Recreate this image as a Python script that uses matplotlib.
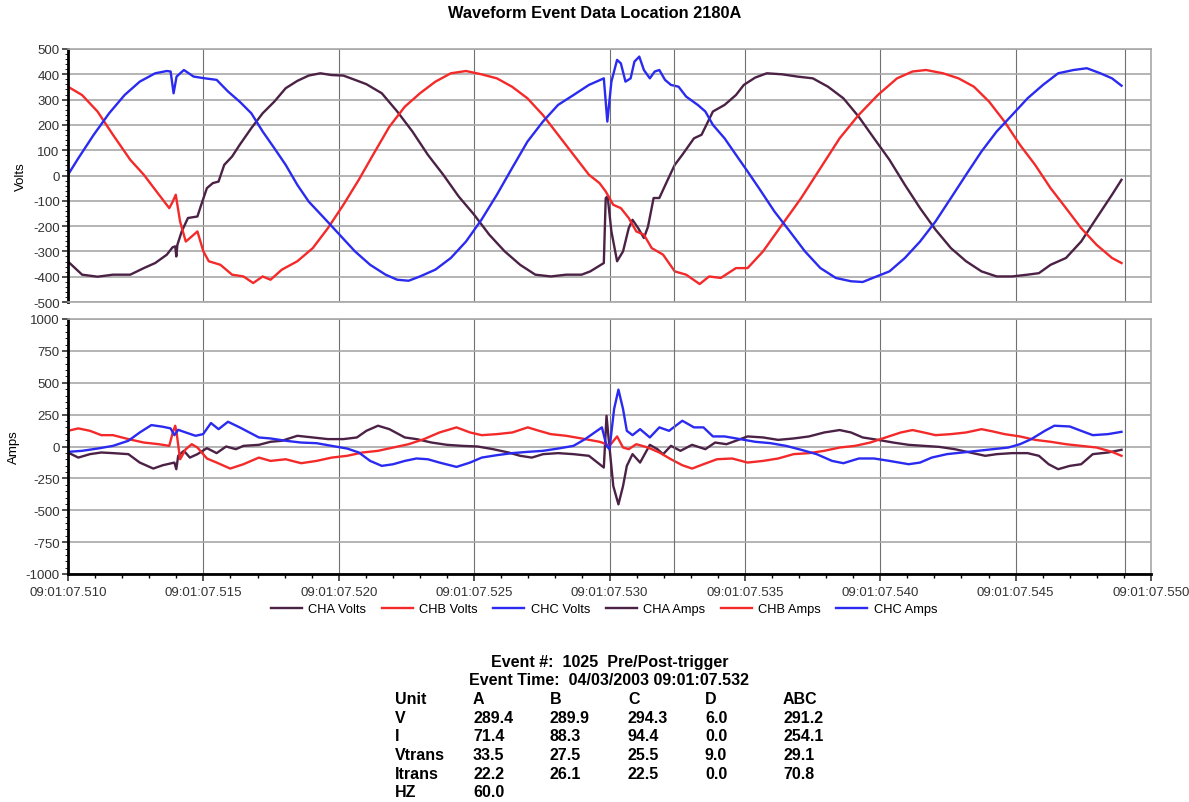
import matplotlib
matplotlib.use("Agg")
from matplotlib import pyplot as plt
from matplotlib.ticker import MultipleLocator, FuncFormatter

plt.rcParams['font.family'] = ['Liberation Sans', 'DejaVu Sans']
plt.rcParams['axes.unicode_minus'] = False

# time in ms after 09:01:07.510
cha_v_t = [0, 0.52, 1.09, 1.66, 2.3, 2.8, 3.22, 3.65, 3.86, 3.96, 4.0, 4.04, 4.2, 4.43, 4.78, 4.92, 5.13,
           5.35, 5.56, 5.77, 6.06, 6.34, 6.77, 7.19, 7.62, 8.04, 8.47, 8.89, 9.32, 9.74, 10.17, 10.6,
           11.02, 11.59, 12.16, 12.72, 13.29, 13.86, 14.43, 15.0, 15.56, 16.13, 16.7, 17.26, 17.83,
           18.4, 18.97, 19.29, 19.79, 19.86, 19.93, 20.07, 20.28, 20.5, 20.71, 20.85, 21.06, 21.27,
           21.42, 21.63, 21.84, 22.12, 22.41, 22.69, 23.12, 23.4, 23.82, 24.25, 24.67, 24.96, 25.38,
           25.81, 26.37, 26.94, 27.51, 28.07, 28.64, 29.2, 29.77, 30.34, 30.91, 31.47, 32.04, 32.61,
           33.17, 33.74, 34.3, 34.87, 35.44, 35.86, 36.29, 36.86, 37.42, 37.99, 38.56, 38.91]
cha_v = [-340, -392, -400, -392, -392, -366, -346, -313, -284, -280, -320, -274, -221, -168, -162,
         -116, -50, -30, -24, 42, 75, 121, 187, 246, 292, 345, 374, 395, 404, 397, 395, 378, 361, 325,
         253, 174, 82, 3, -83, -155, -234, -300, -353, -392, -399, -392, -392, -379, -346, -89, -83,
         -221, -339, -300, -208, -175, -208, -247, -203, -89, -89, -24, 42, 82, 147, 161, 253, 279,
         318, 358, 387, 404, 400, 391, 384, 351, 305, 233, 147, 62, -37, -129, -214, -287, -339, -379,
         -399, -399, -392, -386, -353, -326, -261, -168, -76, -17]

chb_v_t = [0, 0.52, 1.09, 1.66, 2.3, 2.8, 3.36, 3.74, 3.86, 3.98, 4.14, 4.35, 4.57, 4.78, 5.0, 5.2,
           5.63, 6.06, 6.48, 6.84, 7.19, 7.48, 7.9, 8.47, 9.04, 9.6, 10.17, 10.74, 11.3, 11.87, 12.44,
           13.0, 13.57, 14.14, 14.7, 15.27, 15.84, 16.4, 16.97, 17.54, 18.1, 18.67, 19.24, 19.63,
           19.86, 20.14, 20.42, 20.71, 20.99, 21.27, 21.56, 21.98, 22.41, 22.83, 23.33, 23.68, 24.11,
           24.67, 25.1, 25.67, 26.37, 27.08, 27.79, 28.5, 29.2, 29.91, 30.62, 31.19, 31.69, 32.32,
           32.89, 33.46, 34.02, 34.59, 35.16, 35.72, 36.29, 36.86, 37.42, 37.99, 38.56, 38.91]
chb_v = [351, 318, 253, 161, 62, 3, -76, -129, -105, -76, -182, -261, -241, -221, -300, -339, -353,
         -392, -399, -425, -399, -412, -372, -339, -287, -208, -116, -17, 88, 193, 272, 325, 371, 404,
         413, 400, 384, 351, 305, 239, 161, 82, 3, -30, -63, -116, -129, -168, -221, -234, -287,
         -313, -379, -392, -429, -399, -405, -366, -366, -300, -195, -89, 29, 147, 239, 318, 384, 411,
         417, 404, 384, 351, 292, 213, 121, 42, -50, -129, -208, -274, -326, -346]

chc_v_t = [0, 0.38, 0.95, 1.52, 2.09, 2.65, 3.22, 3.65, 3.79, 3.9, 4.01, 4.28, 4.64, 5.06, 5.49,
           5.91, 6.34, 6.77, 7.19, 7.62, 8.04, 8.47, 8.89, 9.46, 10.03, 10.6, 11.16, 11.73, 12.16,
           12.58, 13.0, 13.57, 14.14, 14.7, 15.27, 15.84, 16.4, 16.97, 17.54, 18.1, 18.67, 19.24,
           19.79, 19.92, 20.07, 20.28, 20.42, 20.59, 20.78, 20.92, 21.1, 21.27, 21.49, 21.67, 21.84,
           22.05, 22.27, 22.55, 22.83, 23.26, 23.54, 23.82, 24.25, 24.67, 25.1, 25.52, 26.09, 26.66,
           27.22, 27.79, 28.36, 28.92, 29.35, 29.77, 30.34, 30.91, 31.47, 32.04, 32.61, 33.17, 33.74,
           34.3, 34.87, 35.44, 36.01, 36.57, 37.14, 37.63, 38.13, 38.56, 38.91]
chc_v = [3, 68, 161, 246, 318, 371, 404, 413, 411, 325, 391, 417, 391, 384, 378, 332, 292, 246, 174,
         108, 42, -37, -103, -168, -234, -300, -353, -392, -412, -416, -399, -372, -326, -261, -175,
         -76, 29, 134, 213, 279, 318, 358, 384, 213, 371, 457, 443, 371, 384, 450, 470, 417, 384, 411,
         417, 378, 358, 351, 312, 279, 253, 200, 147, 82, 16, -50, -142, -221, -300, -366, -405, -418,
         -421, -403, -379, -326, -261, -182, -89, 3, 95, 174, 239, 305, 358, 404, 417, 424, 404, 384,
         355]

cha_a_t = [0, 0.38, 0.81, 1.23, 1.66, 2.23, 2.65, 3.15, 3.5, 3.93, 4.0, 4.07, 4.28, 4.5, 4.78, 5.13,
           5.49, 5.84, 6.2, 6.48, 7.05, 7.48, 7.9, 8.47, 9.04, 9.6, 10.17, 10.67, 11.02, 11.45, 11.87,
           12.44, 12.87, 13.43, 14.0, 14.57, 15.13, 15.7, 16.27, 16.7, 17.13, 17.55, 18.1, 18.67,
           19.24, 19.79, 19.89, 19.97, 20.14, 20.33, 20.5, 20.64, 20.85, 21.13, 21.49, 21.77, 21.98,
           22.27, 22.62, 23.05, 23.54, 23.9, 24.32, 24.67, 25.1, 25.67, 26.23, 26.8, 27.37, 27.93,
           28.5, 28.92, 29.35, 29.92, 30.48, 31.05, 31.61, 32.18, 32.75, 33.31, 33.88, 34.3, 34.87,
           35.44, 35.86, 36.22, 36.57, 37.0, 37.42, 37.85, 38.41, 38.91]
cha_a = [-47, -87, -60, -47, -52, -60, -126, -173, -147, -126, -178, -73, -34, -87, -60, -13, -52, 0,
         -21, 5, 13, 37, 45, 84, 71, 58, 58, 71, 123, 163, 136, 71, 58, 31, 13, 5, 0, -21, -47, -73,
         -87, -60, -52, -60, -73, -165, 241, 58, -310, -454, -310, -152, -60, -126, 13, -21, -60, 5,
         -34, 13, -21, 31, 18, 45, 79, 71, 52, 63, 79, 110, 129, 110, 71, 52, 31, 13, 5, -3, -21, -47,
         -73, -60, -52, -52, -73, -139, -178, -152, -139, -60, -47, -26]

chb_a_t = [0, 0.38, 0.81, 1.23, 1.66, 2.23, 2.8, 3.36, 3.74, 3.87, 3.96, 4.01, 4.14, 4.35, 4.57, 4.78,
           5.13, 5.49, 5.99, 6.48, 7.05, 7.48, 8.04, 8.61, 9.18, 9.74, 10.31, 10.88, 11.45, 12.01,
           12.58, 13.15, 13.72, 14.35, 14.85, 15.28, 15.84, 16.41, 16.98, 17.4, 17.83, 18.4, 18.97,
           19.63, 19.79, 20.0, 20.28, 20.5, 20.71, 20.99, 21.42, 21.84, 22.27, 22.69, 23.05, 23.47,
           23.97, 24.53, 25.1, 25.67, 26.23, 26.8, 27.37, 27.93, 28.5, 29.07, 29.63, 30.2, 30.76,
           31.19, 31.61, 32.04, 32.61, 33.17, 33.74, 34.16, 34.59, 35.16, 35.72, 36.29, 36.86, 37.42,
           37.99, 38.56, 38.91]
chb_a = [123, 142, 123, 89, 89, 58, 31, 18, 5, 110, 163, 110, -100, -21, 18, -8, -94, -126, -173,
         -139, -87, -113, -100, -131, -113, -87, -73, -47, -34, -8, 18, 58, 110, 150, 110, 89, 97, 110,
         150, 123, 97, 84, 63, 37, 26, 5, 79, -8, -21, 18, -8, -47, -100, -147, -173, -139, -100, -94,
         -126, -113, -94, -60, -52, -34, -8, 5, 31, 71, 110, 129, 110, 89, 97, 110, 136, 118, 97, 79,
         52, 37, 18, 5, -8, -42, -73]

chc_a_t = [0, 0.52, 1.09, 1.66, 2.23, 2.65, 3.08, 3.5, 3.79, 3.93, 4.07, 4.35, 4.71, 4.99, 5.28,
           5.56, 5.91, 6.34, 6.7, 7.05, 7.48, 8.04, 8.61, 9.18, 9.74, 10.31, 10.74, 11.16, 11.59,
           12.01, 12.44, 12.87, 13.29, 13.72, 14.35, 14.85, 15.28, 15.84, 16.41, 16.98, 17.55, 18.1,
           18.67, 19.1, 19.72, 19.89, 20.0, 20.17, 20.33, 20.5, 20.64, 20.85, 21.13, 21.49, 21.84,
           22.2, 22.69, 23.12, 23.47, 23.82, 24.25, 24.82, 25.38, 25.95, 26.52, 27.08, 27.65, 28.22,
           28.64, 29.21, 29.77, 30.34, 31.05, 31.47, 31.9, 32.46, 33.03, 33.6, 34.16, 34.73, 35.16,
           35.58, 36.08, 36.43, 37.0, 37.42, 37.85, 38.41, 38.91]
chc_a = [-42, -34, -16, 5, 45, 110, 168, 155, 142, 89, 131, 110, 84, 97, 184, 136, 194, 150, 110, 71,
         63, 45, 31, 26, 5, -16, -47, -113, -152, -139, -113, -94, -100, -126, -160, -126, -87, -68,
         -52, -42, -34, -16, 5, 58, 150, 5, -21, 294, 446, 294, 123, 89, 136, 71, 150, 123, 202, 150,
         150, 79, 79, 58, 37, 26, 5, -26, -60, -113, -131, -94, -94, -113, -139, -126, -87, -60, -47,
         -34, -21, -8, 18, 58, 123, 163, 157, 123, 89, 97, 115]

markers_ms = [22.4, 39.05]  # extra vertical lines (trigger / end of record)

row_names = ['Unit', 'V', 'I', 'Vtrans', 'Itrans', 'HZ']
col_a = ['A', '289.4', '71.4', '33.5', '22.2', '60.0']
col_b = ['B', '289.9', '88.3', '27.5', '26.1', '']
col_c = ['C', '294.3', '94.4', '25.5', '22.5', '']
col_d = ['D', '6.0', '0.0', '9.0', '0.0', '']
col_abc = ['ABC', '291.2', '254.1', '29.1', '70.8', '']

t0 = 0.510
def sec(ms):
    return [t0 + m / 1000.0 for m in ms]

c_a = '#4b2145'
c_b = '#f42a2a'
c_c = '#2a2af0'

W, H = 1189, 803
fig = plt.figure(figsize=(W / 100, H / 100), dpi=100)
ax1 = fig.add_axes([68 / W, 1 - 303 / H, (1151 - 68) / W, 253 / H])
ax2 = fig.add_axes([68 / W, 1 - 575 / H, (1151 - 68) / W, 255 / H])

kw = dict(lw=1.7, solid_joinstyle='round')
ax1.plot(sec(cha_v_t), cha_v, color=c_a, label='CHA Volts', **kw)
ax1.plot(sec(chb_v_t), chb_v, color=c_b, label='CHB Volts', **kw)
ax1.plot(sec(chc_v_t), chc_v, color=c_c, label='CHC Volts', **kw)
ax2.plot(sec(cha_a_t), cha_a, color=c_a, label='CHA Amps', **kw)
ax2.plot(sec(chb_a_t), chb_a, color=c_b, label='CHB Amps', **kw)
ax2.plot(sec(chc_a_t), chc_a, color=c_c, label='CHC Amps', **kw)

ax1.set_ylim(-500, 500)
ax1.yaxis.set_major_locator(MultipleLocator(100))
ax2.set_ylim(-1000, 1000)
ax2.yaxis.set_major_locator(MultipleLocator(250))

for ax in (ax1, ax2):
    ax.set_xlim(0.510, 0.550)
    ax.xaxis.set_major_locator(MultipleLocator(0.005))
    ax.xaxis.set_minor_locator(MultipleLocator(0.001))
    ax.grid(axis='y', color='#a8a8a8', lw=1.2)
    ax.grid(axis='x', color='#707070', lw=0.8)
    for m in markers_ms:
        ax.axvline(t0 + m / 1000.0, color='#707070', lw=0.8)
    ax.set_axisbelow(True)
    for s in ('top', 'right'):
        ax.spines[s].set_color('#a8a8a8')
        ax.spines[s].set_linewidth(1.2)
    ax.spines['left'].set_linewidth(2)
    ax.tick_params(axis='y', labelsize=9.5, colors='#333333', length=4, width=1.2, pad=2)

ax1.yaxis.set_minor_locator(MultipleLocator(20))
ax2.yaxis.set_minor_locator(MultipleLocator(50))
ax1.tick_params(axis='y', which='minor', length=2)
ax2.tick_params(axis='y', which='minor', length=2)
ax1.tick_params(axis='x', which='both', length=0, labelbottom=False)
ax1.spines['bottom'].set_color('#a8a8a8')
ax1.spines['bottom'].set_linewidth(1.2)
ax2.spines['bottom'].set_linewidth(2)
ax2.tick_params(axis='x', which='major', length=5, width=1.2, labelsize=9.5, colors='#333333')
ax2.tick_params(axis='x', which='minor', length=3, width=1)
ax2.xaxis.set_major_formatter(FuncFormatter(lambda x, p: '09:01:07.%03d' % round(x * 1000)))

ax1.set_ylabel('Volts', fontsize=9.5, labelpad=4)
ax2.set_ylabel('Amps', fontsize=9.5, labelpad=4)

fig.text(0.5, 1 - 14 / H, 'Waveform Event Data Location 2180A', ha='center', va='center',
         fontsize=11.8, fontweight='bold')

h1, l1 = ax1.get_legend_handles_labels()
h2, l2 = ax2.get_legend_handles_labels()
fig.legend(h1 + h2, l1 + l2, ncol=6, loc='center', bbox_to_anchor=(604 / W, 1 - 610 / H),
           frameon=False, fontsize=9.3, handlelength=2.4, columnspacing=1.2, handletextpad=0.5)

fs = 11.5
fig.text(610 / W, 1 - 663 / H, 'Event #:  1025  Pre/Post-trigger', ha='center', va='center',
         fontsize=fs, fontweight='bold')
fig.text(609 / W, 1 - 681 / H, 'Event Time:  04/03/2003 09:01:07.532', ha='center', va='center',
         fontsize=fs, fontweight='bold')
col_x = [395, 473, 550, 628, 705, 783]
row_y = [700, 719, 737, 756, 775, 793]
for i in range(len(row_names)):
    vals = [row_names[i], col_a[i], col_b[i], col_c[i], col_d[i], col_abc[i]]
    for x, v in zip(col_x, vals):
        fig.text(x / W, 1 - row_y[i] / H, v, ha='left', va='center', fontsize=fs,
                 fontweight='bold')

fig.savefig('out.png', dpi=100)
